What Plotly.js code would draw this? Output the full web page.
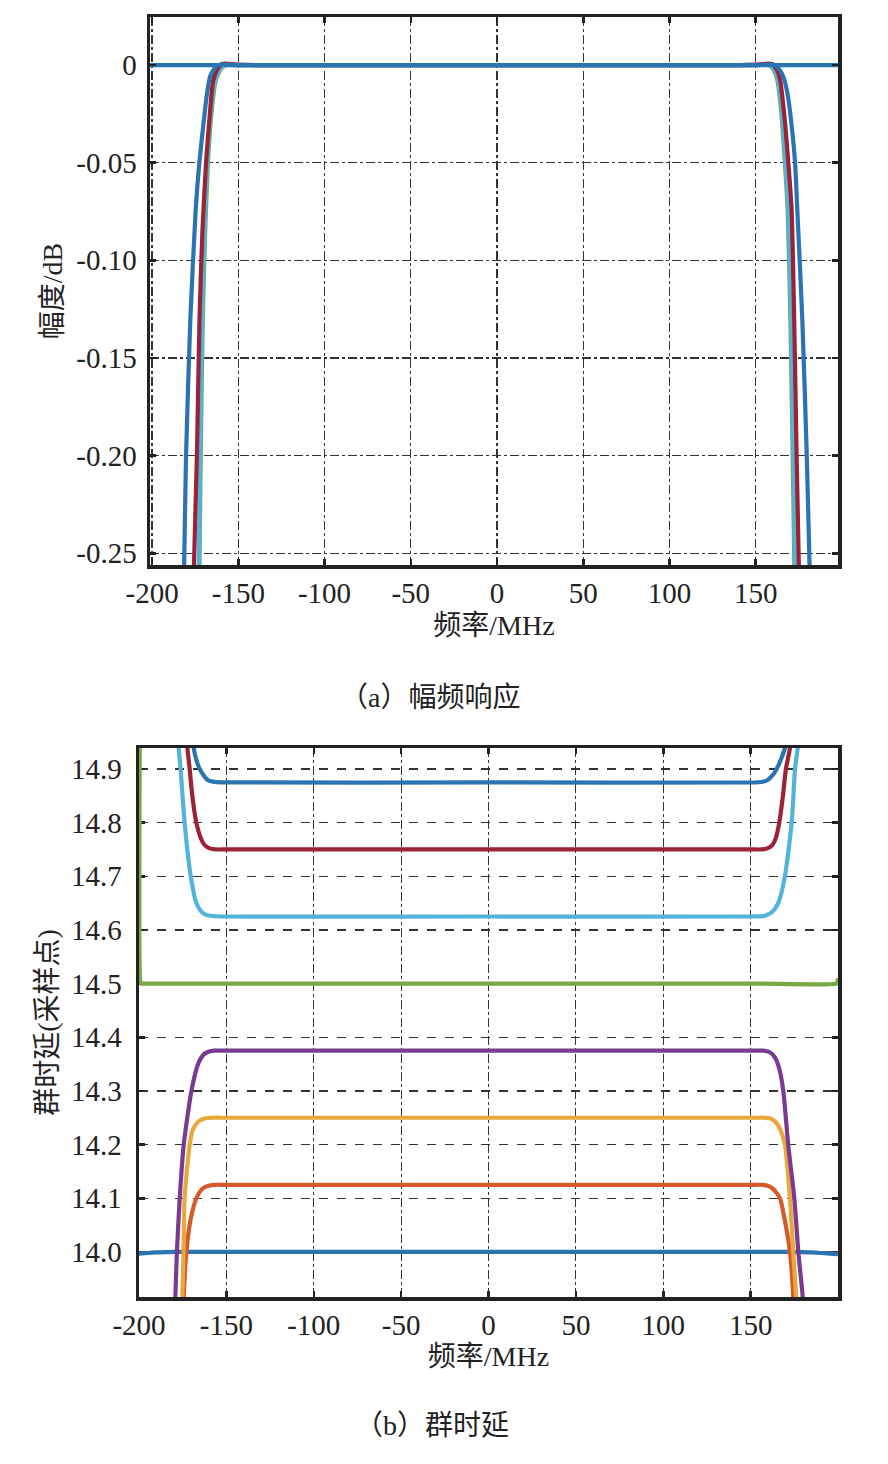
<!DOCTYPE html>
<html><head><meta charset="utf-8">
<script src="https://cdn.plot.ly/plotly-3.0.1.min.js"></script>
<style>html,body{margin:0;padding:0;background:#fff}#chart{width:888px;height:1464px}</style>
</head><body><div id="chart"></div>
<script>
// ---------- (a) amplitude response, dB ----------
var ampFlatX = [-201.2, -150, -100, -50, 0, 50, 100, 150, 197.7];
var ampFlatY = [0, 0, 0, 0, 0, 0, 0, 0, 0];

var ampGreenX = [-173.1, -172.5, -171.8, -170.6, -169.2, -167.6, -165.6, -163.1, -160.1, -156.6, -150, 0, 150, 157.1, 160.1, 162.6, 164.9, 166.9, 168.5, 170.1, 171.4, 172.4, 173.0];
var ampGreenY = [-0.30, -0.256, -0.20, -0.13, -0.085, -0.05, -0.025, -0.008, -0.002, 0, 0, 0, 0, 0, -0.002, -0.008, -0.025, -0.05, -0.074, -0.13, -0.20, -0.256, -0.30];

var ampCyanX = [-173.5, -172.9, -172.2, -171.0, -169.6, -168.0, -166.0, -163.5, -160.5, -157.0, -150, 0, 150, 157.5, 160.5, 163.0, 165.3, 167.3, 168.9, 170.5, 171.8, 172.8, 173.4];
var ampCyanY = [-0.30, -0.256, -0.20, -0.13, -0.085, -0.05, -0.025, -0.008, -0.002, 0, 0, 0, 0, 0, -0.002, -0.008, -0.025, -0.05, -0.074, -0.13, -0.20, -0.256, -0.30];

var ampRedX = [-176.5, -175.7, -174.0, -172.5, -170.8, -168.7, -166.5, -164.6, -162.0, -159.5, -157.0, -152.0, -140, 0, 140, 152.0, 157.0, 159.5, 162.0, 164.0, 166.5, 168.9, 170.8, 172.3, 173.7, 175.0, 176.0];
var ampRedY = [-0.30, -0.256, -0.20, -0.13, -0.085, -0.05, -0.025, -0.008, -0.002, 0.0006, 0.0008, 0.0003, 0, 0, 0, 0.0003, 0.0008, 0.0006, -0.002, -0.007, -0.025, -0.05, -0.074, -0.13, -0.20, -0.256, -0.30];

var ampBlueX = [-182.5, -181.4, -180.3, -177.8, -174.7, -172.6, -170.2, -168.2, -166.4, -164.0, -162.0, -150, 0, 150, 161.0, 163.5, 166.0, 168.5, 170.7, 172.8, 174.1, 177.0, 179.6, 181.2, 182.5];
var ampBlueY = [-0.30, -0.256, -0.20, -0.13, -0.074, -0.05, -0.03, -0.015, -0.006, -0.002, 0, 0, 0, 0, 0, -0.002, -0.006, -0.015, -0.03, -0.05, -0.074, -0.13, -0.20, -0.256, -0.30];

var ampXTickVals = [-200, -150, -100, -50, 0, 50, 100, 150];
var ampXTickText = ['-200', '-150', '-100', '-50', '0', '50', '100', '150'];
var ampYTickVals = [0, -0.05, -0.10, -0.15, -0.20, -0.25];
var ampYTickText = ['0', '-0.05', '-0.10', '-0.15', '-0.20', '-0.25'];

// ---------- (b) group delay, samples ----------
var gdBlue0X = [-200, -195, -190, -185, -180, -170, -100, 0, 100, 170, 180, 185, 190, 195, 200];
var gdBlue0Y = [13.997, 13.998, 13.999, 13.9995, 14.0, 14.0, 14.0, 14.0, 14.0, 14.0, 13.9995, 13.999, 13.998, 13.997, 13.996];

var gdOrangeX = [-175, -174.4, -172.9, -170.5, -167.2, -164, -161.5, -157, -150, 0, 150, 157, 160, 163, 166.8, 169.5, 172.5, 174.4, 175];
var gdOrangeY = [13.85, 13.916, 14.0, 14.06, 14.1, 14.117, 14.122, 14.125, 14.125, 14.125, 14.125, 14.125, 14.123, 14.117, 14.1, 14.06, 14.0, 13.916, 13.85];

var gdYellowX = [-175.8, -175.2, -174.5, -173.9, -171, -169.2, -166, -162, -158, -150, 0, 150, 158, 161, 164, 167, 169.6, 172.5, 174.4, 176, 176.6];
var gdYellowY = [13.85, 13.916, 14.0, 14.1, 14.2, 14.228, 14.243, 14.249, 14.25, 14.25, 14.25, 14.25, 14.25, 14.249, 14.243, 14.228, 14.2, 14.1, 14.0, 13.916, 13.85];

var gdPurpleX = [-179.8, -179.2, -178.3, -176.7, -174.4, -170, -166.2, -163.5, -161, -157, -150, 0, 150, 157, 161, 164, 166.5, 168.7, 171.5, 175, 177.3, 179.8, 180.5];
var gdPurpleY = [13.85, 13.916, 14.0, 14.1, 14.2, 14.3, 14.35, 14.366, 14.372, 14.375, 14.375, 14.375, 14.375, 14.375, 14.372, 14.362, 14.34, 14.3, 14.2, 14.1, 14.0, 13.916, 13.85];

var gdGreenX = [-198.9, -198.9, -198.6, -150, 0, 150, 199, 199.6, 200];
var gdGreenY = [15.3, 14.5, 14.5, 14.5, 14.5, 14.5, 14.5, 14.503, 14.51];

var gdCyanX = [-178, -177.3, -176.2, -173.9, -170.4, -167.2, -164, -161.5, -158, -150, 0, 150, 158, 159.5, 162.5, 165.8, 169.6, 173.5, 175.4, 176.9, 177.6];
var gdCyanY = [15.0, 14.939, 14.9, 14.8, 14.7, 14.65, 14.633, 14.628, 14.626, 14.625, 14.625, 14.625, 14.626, 14.628, 14.634, 14.65, 14.7, 14.8, 14.9, 14.939, 15.0];

var gdRedX = [-173, -172.3, -171, -169.5, -167.2, -164.5, -162.4, -159.5, -156, -150, 0, 150, 156, 159.5, 162.4, 164.5, 166.4, 168.5, 170.2, 172.5, 173.3];
var gdRedY = [15.0, 14.939, 14.9, 14.85, 14.8, 14.77, 14.758, 14.752, 14.75, 14.75, 14.75, 14.75, 14.75, 14.752, 14.758, 14.772, 14.8, 14.85, 14.9, 14.939, 15.0];

var gdBlue7X = [-169.5, -168.7, -167, -165.3, -163, -160.5, -157, -153, 0, 153, 157, 159.5, 162.5, 164.9, 167, 169.6, 170.4];
var gdBlue7Y = [15.0, 14.939, 14.915, 14.9, 14.888, 14.879, 14.876, 14.875, 14.875, 14.875, 14.876, 14.879, 14.888, 14.9, 14.915, 14.939, 15.0];

var gdXTickVals = [-200, -150, -100, -50, 0, 50, 100, 150];
var gdXTickText = ['-200', '-150', '-100', '-50', '0', '50', '100', '150'];
var gdYTickVals = [14.0, 14.1, 14.2, 14.3, 14.4, 14.5, 14.6, 14.7, 14.8, 14.9];
var gdYTickText = ['14.0', '14.1', '14.2', '14.3', '14.4', '14.5', '14.6', '14.7', '14.8', '14.9'];

// ---------- styling ----------
var C = {
  blue: '#2b74b4', orange: '#d65a28', yellow: '#e8a83a', purple: '#7b3a92',
  green: '#77a843', cyan: '#52b4dc', red: '#9c2336'
};
var FONT = "'Liberation Serif', 'Noto Sans CJK SC', serif";
var INK = '#222';
var W = 888, H = 1464;

function tr(x, y, color, xa, ya) {
  return {x: x, y: y, xaxis: xa, yaxis: ya, type: 'scatter', mode: 'lines',
    line: {color: color, width: 4.2, shape: 'spline', smoothing: 0.6},
    hoverinfo: 'skip', showlegend: false};
}

var data = [
  tr(ampFlatX, ampFlatY, C.blue, 'x', 'y'),
  tr(ampGreenX, ampGreenY, C.green, 'x', 'y'),
  tr(ampCyanX, ampCyanY, C.cyan, 'x', 'y'),
  tr(ampRedX, ampRedY, C.red, 'x', 'y'),
  tr(ampBlueX, ampBlueY, C.blue, 'x', 'y'),

  tr(gdBlue0X, gdBlue0Y, C.blue, 'x2', 'y2'),
  tr(gdOrangeX, gdOrangeY, C.orange, 'x2', 'y2'),
  tr(gdYellowX, gdYellowY, C.yellow, 'x2', 'y2'),
  tr(gdPurpleX, gdPurpleY, C.purple, 'x2', 'y2'),
  tr(gdGreenX, gdGreenY, C.green, 'x2', 'y2'),
  tr(gdCyanX, gdCyanY, C.cyan, 'x2', 'y2'),
  tr(gdRedX, gdRedY, C.red, 'x2', 'y2'),
  tr(gdBlue7X, gdBlue7Y, C.blue, 'x2', 'y2')
];

function axis(extra) {
  var a = {
    ticks: 'inside', ticklen: 6, tickwidth: 2.5, tickcolor: INK,
    showline: true, linewidth: 3.5, linecolor: INK, mirror: 'ticks',
    showgrid: true, gridcolor: '#333', gridwidth: 1.2, griddash: 'dashdot',
    zeroline: false, tickmode: 'array',
    tickfont: {family: FONT, size: 29, color: INK}
  };
  for (var k in extra) a[k] = extra[k];
  return a;
}

var layout = {
  width: W, height: H,
  margin: {l: 0, r: 0, t: 0, b: 0},
  paper_bgcolor: '#fff', plot_bgcolor: '#fff',
  showlegend: false,
  xaxis: axis({domain: [150 / W, 838 / W], range: [-201.2, 197.7], anchor: 'y',
    tickvals: ampXTickVals, ticktext: ampXTickText, ticklabelstandoff: 0,
    title: {text: '频率/MHz', font: {family: FONT, size: 28, color: INK}, standoff: 8}}),
  yaxis: axis({domain: [1 - 565 / H, 1 - 17 / H], range: [-0.256, 0.0246], anchor: 'x',
    tickvals: ampYTickVals, ticktext: ampYTickText, ticklabelstandoff: 4,
    title: {text: '幅度/dB', font: {family: FONT, size: 28, color: INK}, standoff: 6}}),
  xaxis2: axis({domain: [139 / W, 838 / W], range: [-200, 200], anchor: 'y2',
    tickvals: gdXTickVals, ticktext: gdXTickText, ticklabelstandoff: 0,
    title: {text: '频率/MHz', font: {family: FONT, size: 28, color: INK}, standoff: 7}}),
  yaxis2: axis({domain: [1 - 1297 / H, 1 - 748 / H], range: [13.916, 14.939], anchor: 'x2',
    tickvals: gdYTickVals, ticktext: gdYTickText, ticklabelstandoff: 8, griddash: 'dash',
    layer: 'below traces',
    title: {text: '群时延(采样点)', font: {family: FONT, size: 28, color: INK}, standoff: 6}}),
  annotations: [
    {text: '（a）幅频响应', xref: 'paper', yref: 'paper', x: 430 / W, y: 1 - 697 / H,
     xanchor: 'center', yanchor: 'middle', showarrow: false,
     font: {family: FONT, size: 28, color: INK}},
    {text: '（b）群时延', xref: 'paper', yref: 'paper', x: 432 / W, y: 1 - 1425 / H,
     xanchor: 'center', yanchor: 'middle', showarrow: false,
     font: {family: FONT, size: 28, color: INK}}
  ]
};

Plotly.newPlot('chart', data, layout, {staticPlot: true, displayModeBar: false});
</script></body></html>
